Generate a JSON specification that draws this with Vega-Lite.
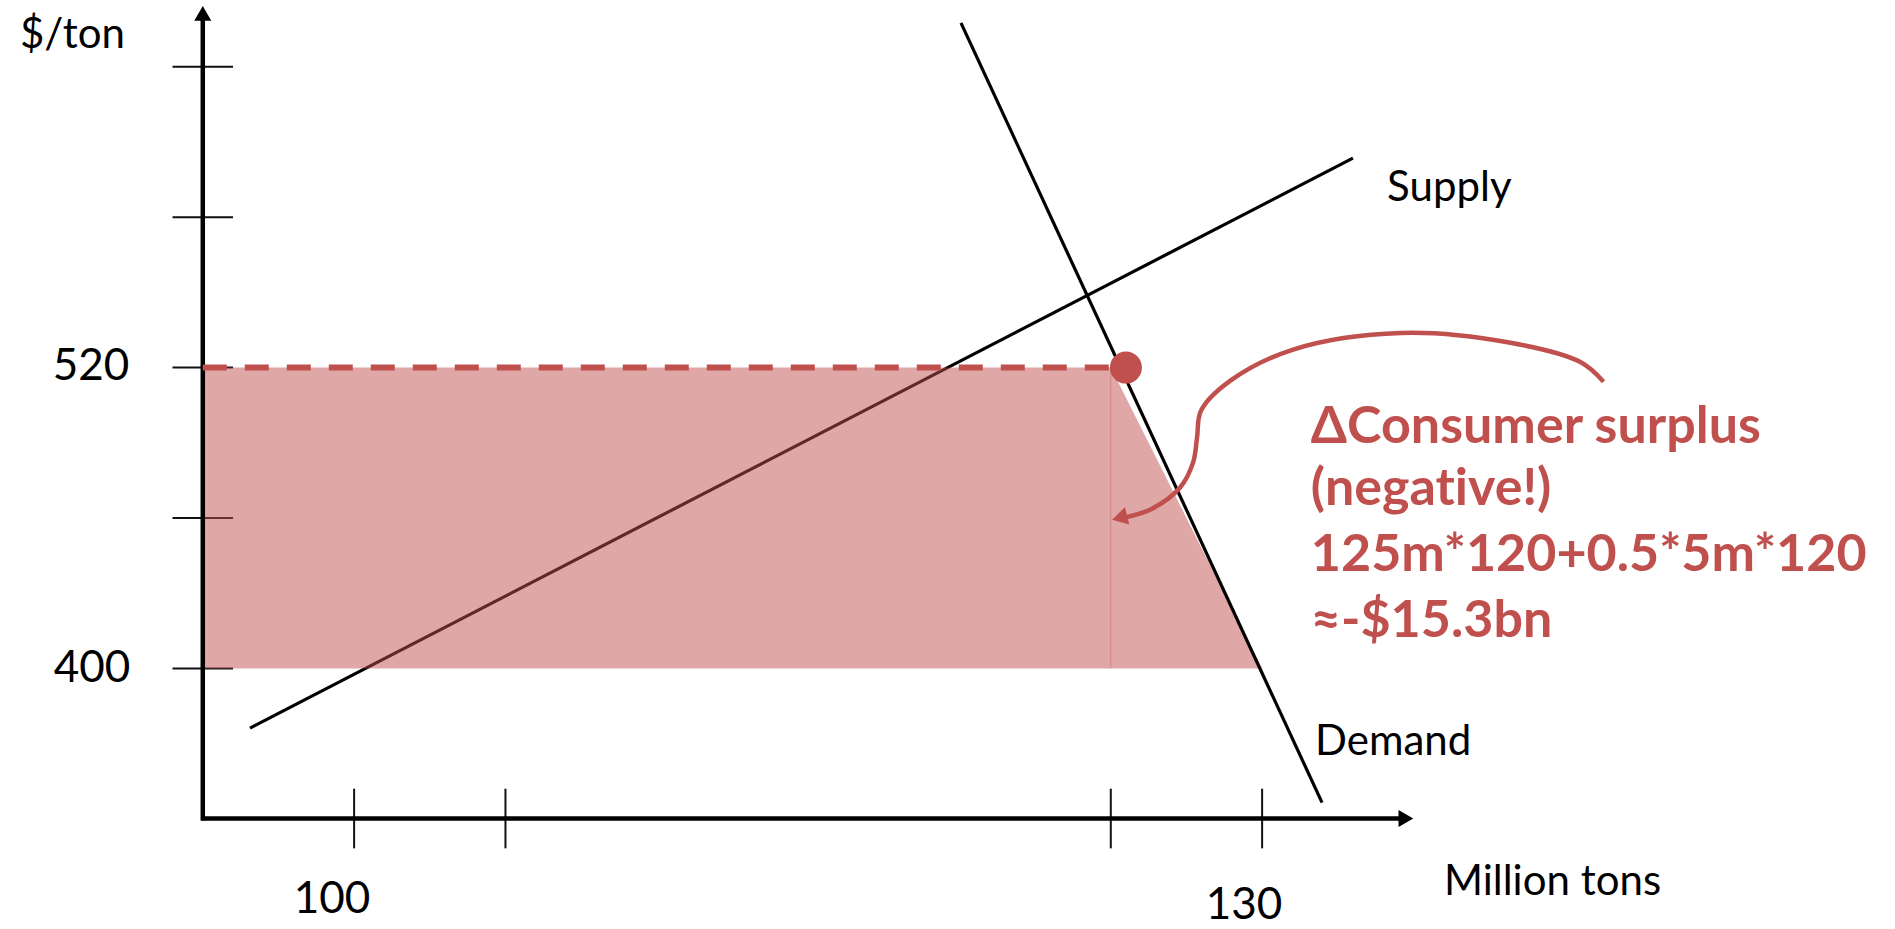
{
  "$schema": "https://vega.github.io/schema/vega-lite/v6.json",
  "width": 1895,
  "height": 929,
  "padding": 0,
  "autosize": {"type": "fit", "contains": "padding"},
  "background": "white",
  "config": {"view": {"stroke": null}, "font": "Lato"},
  "datasets": {
    "supply": [{"x": 96.56, "y": 376.19}, {"x": 133.0, "y": 603.57}],
    "demand": [{"x": 120.05, "y": 657.54}, {"x": 131.98, "y": 346.43}],
    "fill": [
      {"x": 95.0, "y": 520, "y2": 400},
      {"x": 125.0, "y": 520, "y2": 400},
      {"x": 130.0, "y": 400, "y2": 400}
    ],
    "seam": [{"x": 125.0, "x2": 125.0, "y": 400, "y2": 520}],
    "axes": [
      {"x": 95.0, "x2": 95.0, "y": 339.3, "y2": 661.0},
      {"x": 94.95, "x2": 134.6, "y": 340.08, "y2": 340.08}
    ],
    "ticks": [
      {"x": 94.0, "x2": 96.0, "y": 400, "y2": 400},
      {"x": 94.0, "x2": 96.0, "y": 460, "y2": 460},
      {"x": 94.0, "x2": 96.0, "y": 520, "y2": 520},
      {"x": 94.0, "x2": 96.0, "y": 580, "y2": 580},
      {"x": 94.0, "x2": 96.0, "y": 640, "y2": 640},
      {"x": 100, "x2": 100, "y": 328.2, "y2": 352.0},
      {"x": 105, "x2": 105, "y": 328.2, "y2": 352.0},
      {"x": 125, "x2": 125, "y": 328.2, "y2": 352.0},
      {"x": 130, "x2": 130, "y": 328.2, "y2": 352.0}
    ],
    "yarrow": [{"x": 95.0, "y": 661.3}],
    "xarrow": [{"x": 134.75, "y": 340.08}],
    "dashed": [{"x": 95.0, "x2": 125.2, "y": 520, "y2": 520}],
    "dot": [{"x": 125.5, "y": 520}],
    "curve": [
      {"i": 0, "x": 141.28, "y": 514.4},
      {"i": 1, "x": 140.5, "y": 522.3},
      {"i": 2, "x": 138.16, "y": 530.0},
      {"i": 3, "x": 134.59, "y": 533.8},
      {"i": 4, "x": 131.05, "y": 527.3},
      {"i": 5, "x": 128.94, "y": 514.7},
      {"i": 6, "x": 127.98, "y": 502.8},
      {"i": 7, "x": 127.85, "y": 492.1},
      {"i": 8, "x": 127.72, "y": 482.2},
      {"i": 9, "x": 127.29, "y": 472.2},
      {"i": 10, "x": 126.33, "y": 463.5},
      {"i": 11, "x": 125.5, "y": 460.3},
      {"i": 12, "x": 125.25, "y": 459.9}
    ],
    "curvehead": [{"x": 125.29, "y": 460.1}],
    "numlabels": [
      {"x": 91.31, "y": 515.1, "label": "520"},
      {"x": 91.34, "y": 394.5, "label": "400"},
      {"x": 99.27, "y": 302.4, "label": "100"},
      {"x": 129.4, "y": 300.0, "label": "130"}
    ],
    "leftlabels": [
      {"x": 88.96, "y": 647.6, "label": "$/ton"},
      {"x": 136.01, "y": 309.5, "label": "Million tons"},
      {"x": 134.13, "y": 586.5, "label": "Supply"},
      {"x": 131.75, "y": 365.5, "label": "Demand"}
    ],
    "annot": [
      {"x": 131.61, "y": 490.1, "label": "ΔConsumer surplus"},
      {"x": 131.61, "y": 465.1, "label": "(negat\u200Cive!)"},
      {"x": 131.61, "y": 438.9, "label": "125m*120+0.5*5m*120"},
      {"x": 131.61, "y": 412.7, "label": "≈-$15.3bn"}
    ]
  },
  "encoding": {
    "x": {"field": "x", "type": "quantitative", "scale": {"domain": [88.3, 150.91], "nice": false, "zero": false}, "axis": null},
    "y": {"field": "y", "type": "quantitative", "scale": {"domain": [298.02, 666.67], "nice": false, "zero": false}, "axis": null}
  },
  "layer": [
    {"data": {"name": "supply"}, "mark": {"type": "line", "color": "black", "strokeWidth": 3.2, "clip": false}},
    {"data": {"name": "ticks"}, "mark": {"type": "rule", "color": "#111111", "strokeWidth": 2}, "encoding": {"x2": {"field": "x2"}, "y2": {"field": "y2"}}},
    {"data": {"name": "fill"}, "mark": {"type": "area", "color": "#c0504d", "opacity": 0.5}, "encoding": {"y2": {"field": "y2"}}},
    {"data": {"name": "seam"}, "mark": {"type": "rule", "color": "#c0504d", "opacity": 0.35, "strokeWidth": 1}, "encoding": {"x2": {"field": "x2"}, "y2": {"field": "y2"}}},
    {"data": {"name": "demand"}, "mark": {"type": "line", "color": "black", "strokeWidth": 3.2}},
    {"data": {"name": "axes"}, "mark": {"type": "rule", "color": "black", "strokeWidth": 4.5}, "encoding": {"x2": {"field": "x2"}, "y2": {"field": "y2"}}},
    {"data": {"name": "yarrow"}, "mark": {"type": "point", "shape": "triangle-up", "filled": true, "color": "black", "opacity": 1, "size": 290}},
    {"data": {"name": "xarrow"}, "mark": {"type": "point", "shape": "triangle-right", "filled": true, "color": "black", "opacity": 1, "size": 290}},
    {"data": {"name": "dashed"}, "mark": {"type": "rule", "color": "#c0504d", "strokeWidth": 6, "strokeDash": [24, 18]}, "encoding": {"x2": {"field": "x2"}, "y2": {"field": "y2"}}},
    {"data": {"name": "dot"}, "mark": {"type": "point", "shape": "circle", "filled": true, "color": "#c0504d", "opacity": 1, "size": 1024}},
    {"data": {"name": "curve"}, "mark": {"type": "line", "color": "#c0504d", "strokeWidth": 4.5, "interpolate": "catmull-rom"}, "encoding": {"order": {"field": "i", "type": "quantitative"}}},
    {"data": {"name": "curvehead"}, "mark": {"type": "point", "shape": "triangle-left", "filled": true, "color": "#c0504d", "opacity": 1, "size": 320, "angle": -14}},
    {"data": {"name": "numlabels"}, "mark": {"type": "text", "font": "Lato", "fontSize": 44, "align": "center", "baseline": "alphabetic", "color": "black"}, "encoding": {"text": {"field": "label"}}},
    {"data": {"name": "leftlabels"}, "mark": {"type": "text", "font": "Lato", "fontSize": 42, "align": "left", "baseline": "alphabetic", "color": "black"}, "encoding": {"text": {"field": "label"}}},
    {"data": {"name": "annot"}, "mark": {"type": "text", "font": "Lato", "fontSize": 52, "fontWeight": "bold", "align": "left", "baseline": "alphabetic", "color": "#c0504d"}, "encoding": {"text": {"field": "label"}}}
  ]
}
